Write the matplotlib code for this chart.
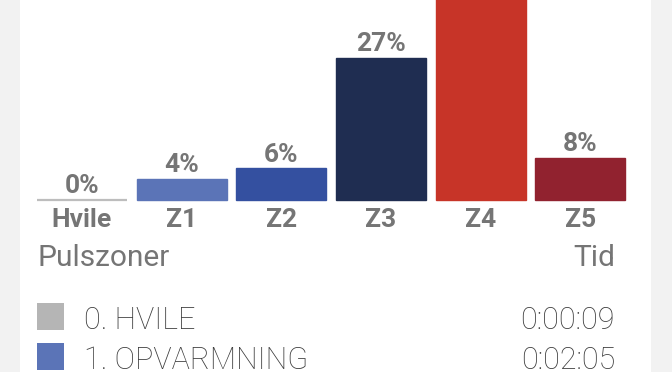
import matplotlib
matplotlib.use("Agg")
import matplotlib.pyplot as plt
from matplotlib.patches import Rectangle

plt.rcParams['font.family'] = ['Roboto', 'DejaVu Sans']

zones = ["Hvile", "Z1", "Z2", "Z3", "Z4", "Z5"]
percent = [0, 4, 6, 27, 55, 8]
bar_colors = ["#bdbdbd", "#5b74b7", "#3450a0", "#1f2d51", "#c73428", "#91222f"]

legend_labels = ["0. HVILE", "1. OPVARMNING"]
legend_times = ["0:00:09", "0:02:05"]
legend_colors = ["#b5b5b5", "#5b74b7"]

W, H = 672, 372
fig = plt.figure(figsize=(W / 100, H / 100), dpi=100)
fig.patch.set_facecolor("#f2f2f2")
fig.patches.append(Rectangle((20 / W, 0), 631 / W, 1, transform=fig.transFigure,
                             facecolor="white", edgecolor="none", zorder=-5))

ax = fig.add_axes([32.15 / W, (H - 200) / H, 598 / W, 200 / H])
ax.set_zorder(3)
ax.set_facecolor("none")
x = list(range(len(zones)))
bars = ax.bar(x, percent, width=0.9, color=bar_colors, edgecolor=bar_colors,
              linewidth=1.0, clip_on=False)
for b, p in zip(bars, percent):
    if p == 0:
        b.set_linewidth(1.6)
ax.set_xlim(-0.5, len(zones) - 0.5)
ax.set_ylim(0, 38.0)
for s in ax.spines.values():
    s.set_visible(False)
ax.set_yticks([])
ax.set_xticks(x, zones)
ax.tick_params(axis="x", length=0, pad=6, labelsize=19, labelcolor="#757575")
for t in ax.get_xticklabels():
    t.set_fontweight("bold")
ax.bar_label(bars, labels=[f"{p}%" for p in percent], padding=1.2,
             fontsize=19, fontweight="bold", color="#757575", clip_on=False)

fig.text(38 / W, (H - 266) / H, "Pulszoner", fontsize=21.5, color="#757575",
         ha="left", va="baseline")
fig.text(615 / W, (H - 266) / H, "Tid", fontsize=21.5, color="#757575",
         ha="right", va="baseline")

row_top = [303, 343]
for lab, tm, col, top in zip(legend_labels, legend_times, legend_colors, row_top):
    fig.patches.append(Rectangle((37 / W, (H - top - 27) / H), 27 / W, 27 / H,
                                 transform=fig.transFigure, facecolor=col,
                                 edgecolor="none", zorder=1))
    fig.text(84 / W, (H - top - 26) / H, lab, fontsize=22, color="#3c3c3c",
             fontweight="light", ha="left", va="baseline")
    fig.text(615 / W, (H - top - 26) / H, tm, fontsize=22, color="#3c3c3c",
             fontweight="light", ha="right", va="baseline")

fig.savefig("out.png", dpi=100, facecolor=fig.get_facecolor())
